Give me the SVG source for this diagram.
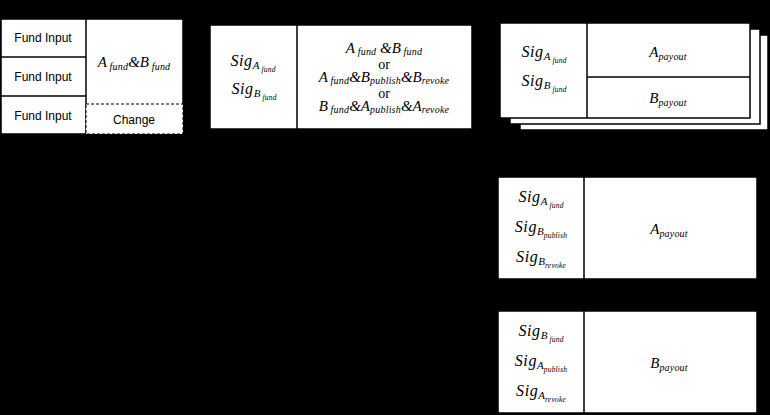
<svg xmlns="http://www.w3.org/2000/svg" width="770" height="415" viewBox="0 0 770 415">
<style>
.bx{fill:#fff;stroke:#000;stroke-width:1.5}
.ln{stroke:#000;stroke-width:1.5;fill:none}
.dash{fill:#fff;stroke:#000;stroke-width:1;stroke-dasharray:3 2}
.sans{font-family:"Liberation Sans",Arial,sans-serif;font-size:12px;fill:#000}
.m{font-family:"Liberation Serif","Times New Roman",serif;font-style:italic;font-size:15px;fill:#000}
.sig{font-size:16px;letter-spacing:0.6px}
.or{font-family:"Liberation Serif","Times New Roman",serif;font-size:14px;fill:#000}
.s{font-size:10px;letter-spacing:0.2px}
.sa{font-size:11px;letter-spacing:0}
.ss{font-size:7.5px;letter-spacing:0.2px}
.con{stroke:#000;stroke-width:3;fill:none}
</style>
<defs>
<marker id="ah" markerWidth="6" markerHeight="6" refX="5" refY="3" orient="auto" markerUnits="strokeWidth">
<path d="M0,0 L6,3 L0,6 z" fill="#000"/>
</marker>
</defs>
<rect x="0" y="0" width="770" height="415" fill="#000"/>

<g id="connectors">
<path class="con" d="M183,64 H206" marker-end="url(#ah)"/>
<path class="con" d="M472,64 H496" marker-end="url(#ah)"/>
<path class="con" d="M384,129 V362 H494" marker-end="url(#ah)"/>
<path class="con" d="M384,228 H494" marker-end="url(#ah)"/>
</g>

<g id="fund-tx">
<rect class="bx" x="1" y="19" width="182" height="115"/>
<line class="ln" x1="86" y1="19" x2="86" y2="134"/>
<line class="ln" x1="1" y1="57" x2="86" y2="57"/>
<line class="ln" x1="1" y1="96" x2="86" y2="96"/>
<rect class="dash" x="86" y="104" width="97" height="30"/>
<text class="sans" x="43" y="42" text-anchor="middle">Fund Input</text>
<text class="sans" x="43" y="81" text-anchor="middle">Fund Input</text>
<text class="sans" x="43" y="120" text-anchor="middle">Fund Input</text>
<text class="sans" x="134" y="124" text-anchor="middle">Change</text>
<text class="m" x="134" y="67" text-anchor="middle">A<tspan class="s" dy="3"> fund</tspan><tspan dy="-3">&amp;B</tspan><tspan class="s" dy="3"> fund</tspan></text>
</g>

<g id="commit-tx">
<rect class="bx" x="210" y="25" width="262" height="104"/>
<line class="ln" x1="297" y1="25" x2="297" y2="129"/>
<text class="m sig" x="253" y="66" text-anchor="middle">Sig<tspan class="sa" dy="3">A</tspan><tspan class="ss" dy="3"> fund</tspan></text>
<text class="m sig" x="254" y="94" text-anchor="middle">Sig<tspan class="sa" dy="3">B</tspan><tspan class="ss" dy="3"> fund</tspan></text>
<text class="m" x="384" y="53" text-anchor="middle">A<tspan class="s" dy="2"> fund</tspan><tspan dy="-2"> &amp;B</tspan><tspan class="s" dy="2"> fund</tspan></text>
<text class="or" x="384" y="69" text-anchor="middle">or</text>
<text class="m" x="384" y="82" text-anchor="middle">A<tspan class="s" dy="2"> fund</tspan><tspan dy="-2">&amp;B</tspan><tspan class="s" dy="2">publish</tspan><tspan dy="-2">&amp;B</tspan><tspan class="s" dy="2">revoke</tspan></text>
<text class="or" x="384" y="98" text-anchor="middle">or</text>
<text class="m" x="384" y="111" text-anchor="middle">B<tspan class="s" dy="2"> fund</tspan><tspan dy="-2">&amp;A</tspan><tspan class="s" dy="2">publish</tspan><tspan dy="-2">&amp;A</tspan><tspan class="s" dy="2">revoke</tspan></text>
</g>

<g id="close-tx">
<rect class="bx" x="520" y="35" width="248" height="95"/>
<rect class="bx" x="510" y="29" width="250" height="95"/>
<rect class="bx" x="500" y="23" width="250" height="95"/>
<line class="ln" x1="587" y1="23" x2="587" y2="118"/>
<line class="ln" x1="587" y1="77" x2="750" y2="77"/>
<text class="m sig" x="544" y="57" text-anchor="middle">Sig<tspan class="sa" dy="3">A</tspan><tspan class="ss" dy="3"> fund</tspan></text>
<text class="m sig" x="544" y="86" text-anchor="middle">Sig<tspan class="sa" dy="3">B</tspan><tspan class="ss" dy="3"> fund</tspan></text>
<text class="m" x="668" y="57" text-anchor="middle">A<tspan class="s" dy="3">payout</tspan></text>
<text class="m" x="668" y="103" text-anchor="middle">B<tspan class="s" dy="3">payout</tspan></text>
</g>

<g id="a-revoke-tx">
<rect class="bx" x="498" y="177" width="259" height="102"/>
<line class="ln" x1="584" y1="177" x2="584" y2="279"/>
<text class="m sig" x="541" y="202" text-anchor="middle">Sig<tspan class="sa" dy="3">A</tspan><tspan class="ss" dy="3"> fund</tspan></text>
<text class="m sig" x="541" y="232" text-anchor="middle">Sig<tspan class="sa" dy="3">B</tspan><tspan class="ss" dy="3">publish</tspan></text>
<text class="m sig" x="541" y="262" text-anchor="middle">Sig<tspan class="sa" dy="3">B</tspan><tspan class="ss" dy="3">revoke</tspan></text>
<text class="m" x="669" y="234" text-anchor="middle">A<tspan class="s" dy="3">payout</tspan></text>
</g>

<g id="b-revoke-tx">
<rect class="bx" x="498" y="311" width="259" height="102"/>
<line class="ln" x1="584" y1="311" x2="584" y2="413"/>
<text class="m sig" x="541" y="336" text-anchor="middle">Sig<tspan class="sa" dy="3">B</tspan><tspan class="ss" dy="3"> fund</tspan></text>
<text class="m sig" x="541" y="366" text-anchor="middle">Sig<tspan class="sa" dy="3">A</tspan><tspan class="ss" dy="3">publish</tspan></text>
<text class="m sig" x="541" y="396" text-anchor="middle">Sig<tspan class="sa" dy="3">A</tspan><tspan class="ss" dy="3">revoke</tspan></text>
<text class="m" x="669" y="368" text-anchor="middle">B<tspan class="s" dy="3">payout</tspan></text>
</g>
</svg>
